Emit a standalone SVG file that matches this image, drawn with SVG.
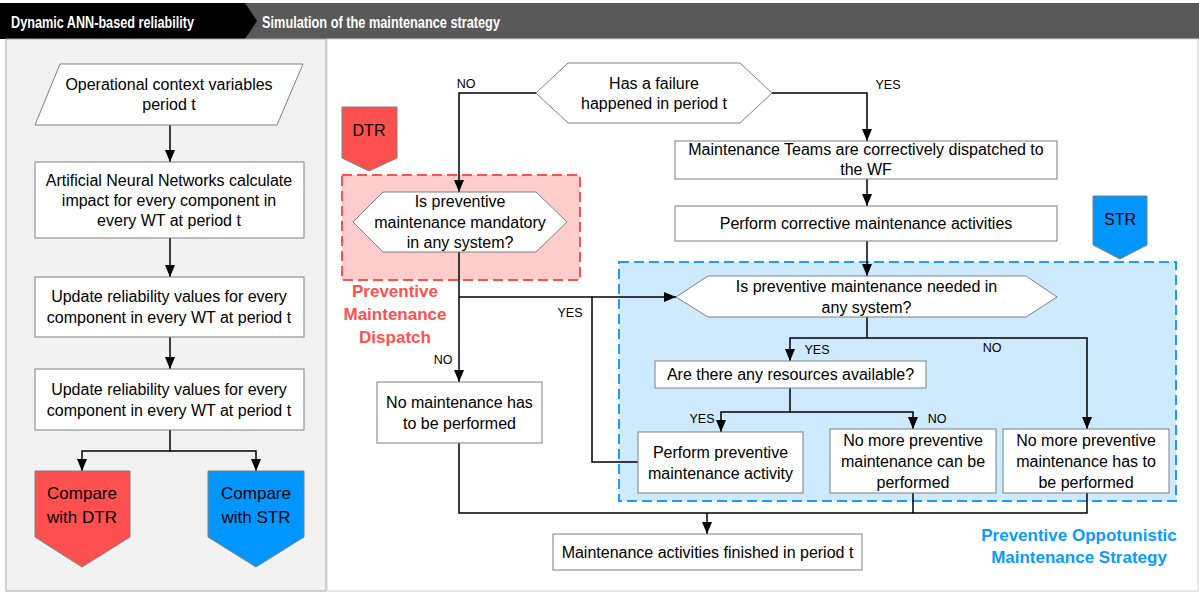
<svg xmlns="http://www.w3.org/2000/svg" width="1199" height="592" viewBox="0 0 1199 592">
<defs>
<style>
text{font-family:"Liberation Sans",Arial,sans-serif;fill:#000}
.t{font-size:16px;text-anchor:middle}
.lb{font-size:12.5px;text-anchor:middle}
.nd{fill:#fff;stroke:#7f7f7f;stroke-width:1}
.cn{fill:none;stroke:#000;stroke-width:1.5}
.hd{font-size:17px;font-weight:bold;fill:#fff}
</style>
<marker id="ar" viewBox="0 0 12 10" markerWidth="12" markerHeight="10" refX="12" refY="5" orient="auto" markerUnits="userSpaceOnUse">
<path d="M0,0 L12,5 L0,10 z" fill="#000"/>
</marker>
</defs>
<rect x="0" y="0" width="1199" height="592" fill="#fff"/>
<g id="header">
<rect x="0" y="3" width="1199" height="36" fill="#595959"/>
<polygon points="0,3 245,3 257,21 245,39 0,39" fill="#000"/>
<text class="hd" x="11" y="28" textLength="183" lengthAdjust="spacingAndGlyphs">Dynamic ANN-based reliability</text>
<text class="hd" x="262" y="28" textLength="238" lengthAdjust="spacingAndGlyphs">Simulation of the maintenance strategy</text>
</g>
<g id="panels">
<rect x="6" y="39" width="320" height="552" fill="#f2f2f2" stroke="#a6a6a6" stroke-width="1"/>
<rect x="327" y="39" width="871" height="552" fill="#fff" stroke="#d0d0d0" stroke-width="1"/>
</g>
<g id="regions">
<rect x="342" y="175" width="238" height="105" fill="#ffcccc" stroke="#ff5050" stroke-width="2" stroke-dasharray="10,5"/>
<rect x="619" y="262" width="557" height="239" fill="#cdeafe" stroke="#1e9bff" stroke-width="2" stroke-dasharray="10,5"/>
<text x="395" y="297" font-size="17" font-weight="bold" text-anchor="middle" style="fill:#ff5050">Preventive</text>
<text x="395" y="320" font-size="17" font-weight="bold" text-anchor="middle" style="fill:#ff5050">Maintenance</text>
<text x="395" y="343" font-size="17" font-weight="bold" text-anchor="middle" style="fill:#ff5050">Dispatch</text>
<text x="1079" y="541" font-size="17" font-weight="bold" text-anchor="middle" style="fill:#0a9bff">Preventive Oppotunistic</text>
<text x="1079" y="563" font-size="17" font-weight="bold" text-anchor="middle" style="fill:#0a9bff">Maintenance Strategy</text>
</g>
<g id="connectors">
<path class="cn" d="M170,125 V162" marker-end="url(#ar)"/>
<path class="cn" d="M170,238 V277" marker-end="url(#ar)"/>
<path class="cn" d="M170,337 V369" marker-end="url(#ar)"/>
<path class="cn" d="M170,430 V451 H82 V471" marker-end="url(#ar)"/>
<path class="cn" d="M170,451 H256 V471" marker-end="url(#ar)"/>
<path class="cn" d="M536,93 H459 V192" marker-end="url(#ar)"/>
<path class="cn" d="M772,93 H867 V141" marker-end="url(#ar)"/>
<path class="cn" d="M867,179 V206" marker-end="url(#ar)"/>
<path class="cn" d="M867,241 V276" marker-end="url(#ar)"/>
<path class="cn" d="M459,252 V382" marker-end="url(#ar)"/>
<path class="cn" d="M459,297 H676" marker-end="url(#ar)"/>
<path class="cn" d="M638,462 H592 V297"/>
<path class="cn" d="M867,317 V338 H790 V361" marker-end="url(#ar)"/>
<path class="cn" d="M867,338 H1087 V429" marker-end="url(#ar)"/>
<path class="cn" d="M790,388 V412 H721 V432" marker-end="url(#ar)"/>
<path class="cn" d="M790,412 H913 V429" marker-end="url(#ar)"/>
<path class="cn" d="M459,443 V513 H1087 V493 M913,493 V513"/>
<path class="cn" d="M707,513 V534" marker-end="url(#ar)"/>
<text class="lb" x="466" y="88">NO</text>
<text class="lb" x="888" y="89">YES</text>
<text class="lb" x="443" y="364">NO</text>
<text class="lb" x="570" y="317">YES</text>
<text class="lb" x="817" y="354">YES</text>
<text class="lb" x="992" y="352">NO</text>
<text class="lb" x="702" y="423">YES</text>
<text class="lb" x="937" y="423">NO</text>
</g>
<g id="n-context">
<polygon class="nd" points="60,64 303,64 277,125 35,125"/>
<text class="t" x="169" y="90">Operational context variables</text>
<text class="t" x="169" y="110">period t</text>
</g>
<g id="n-ann">
<rect class="nd" x="35" y="162" width="269" height="76"/>
<text class="t" x="169" y="186">Artificial Neural Networks calculate</text>
<text class="t" x="169" y="206">impact for every component in</text>
<text class="t" x="169" y="226">every WT at period t</text>
</g>
<g id="n-update1">
<rect class="nd" x="35" y="277" width="269" height="60"/>
<text class="t" x="169" y="302">Update reliability values for every</text>
<text class="t" x="169" y="323">component in every WT at period t</text>
</g>
<g id="n-update2">
<rect class="nd" x="35" y="369" width="269" height="61"/>
<text class="t" x="169" y="395">Update reliability values for every</text>
<text class="t" x="169" y="416">component in every WT at period t</text>
</g>
<g id="n-cmp-dtr">
<polygon points="35,471 130,471 130,537 82,567 35,537" fill="#ff5050" stroke="#7f7f7f" stroke-width="1"/>
<text x="82" y="499" font-size="17" text-anchor="middle">Compare</text>
<text x="82" y="523" font-size="17" text-anchor="middle">with DTR</text>
</g>
<g id="n-cmp-str">
<polygon points="208,471 304,471 304,537 256,567 208,537" fill="#0096ff" stroke="#7f7f7f" stroke-width="1"/>
<text x="256" y="499" font-size="17" text-anchor="middle">Compare</text>
<text x="256" y="523" font-size="17" text-anchor="middle">with STR</text>
</g>
<g id="n-dtr-tag">
<polygon points="342,107 397,107 397,158 369,171 342,158" fill="#ff5050" stroke="#7f7f7f" stroke-width="1"/>
<text x="369" y="136" font-size="16" text-anchor="middle">DTR</text>
</g>
<g id="n-str-tag">
<polygon points="1093,196 1147,196 1147,245 1120,259 1093,245" fill="#0096ff" stroke="#7f7f7f" stroke-width="1"/>
<text x="1120" y="225" font-size="16" text-anchor="middle">STR</text>
</g>
<g id="n-failure">
<polygon class="nd" points="536,93 568,63 740,63 772,93 740,123 568,123"/>
<text class="t" x="654" y="89">Has a failure</text>
<text class="t" x="654" y="109">happened in period t</text>
</g>
<g id="n-dispatch">
<rect class="nd" x="675" y="141" width="382" height="38"/>
<text class="t" x="866" y="155">Maintenance Teams are correctively dispatched to</text>
<text class="t" x="866" y="175">the WF</text>
</g>
<g id="n-corrective">
<rect class="nd" x="675" y="206" width="382" height="35"/>
<text class="t" x="866" y="229">Perform corrective maintenance activities</text>
</g>
<g id="n-mandatory">
<polygon class="nd" points="353,222 383,192 536,192 567,222 536,252 383,252"/>
<text class="t" x="460" y="207">Is preventive</text>
<text class="t" x="460" y="228">maintenance mandatory</text>
<text class="t" x="460" y="248">in any system?</text>
</g>
<g id="n-nomaint">
<rect class="nd" x="377" y="382" width="165" height="61"/>
<text class="t" x="459.5" y="408">No maintenance has</text>
<text class="t" x="459.5" y="429">to be performed</text>
</g>
<g id="n-needed">
<polygon class="nd" points="676,297 708,276 1026,276 1057,297 1026,317 708,317"/>
<text class="t" x="866.5" y="292">Is preventive maintenance needed in</text>
<text class="t" x="866.5" y="313">any system?</text>
</g>
<g id="n-resources">
<rect class="nd" x="655" y="361" width="271" height="27"/>
<text class="t" x="790.5" y="380">Are there any resources available?</text>
</g>
<g id="n-perform">
<rect class="nd" x="638" y="432" width="165" height="61"/>
<text class="t" x="720.5" y="458">Perform preventive</text>
<text class="t" x="720.5" y="479">maintenance activity</text>
</g>
<g id="n-cannot">
<rect class="nd" x="830" y="429" width="166" height="64"/>
<text class="t" x="913" y="446">No more preventive</text>
<text class="t" x="913" y="467">maintenance can be</text>
<text class="t" x="913" y="488">performed</text>
</g>
<g id="n-hasnot">
<rect class="nd" x="1003" y="429" width="166" height="64"/>
<text class="t" x="1086" y="446">No more preventive</text>
<text class="t" x="1086" y="467">maintenance has to</text>
<text class="t" x="1086" y="488">be performed</text>
</g>
<g id="n-finished">
<rect class="nd" x="553" y="534" width="309" height="36"/>
<text class="t" x="707.5" y="558">Maintenance activities finished in period t</text>
</g>
</svg>
